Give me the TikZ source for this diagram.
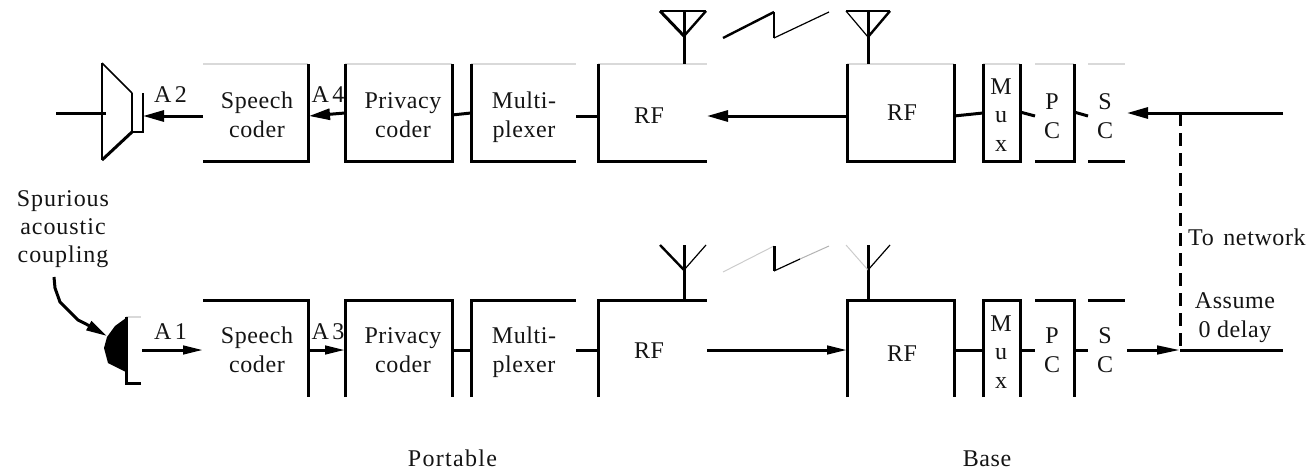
\documentclass[tikz,border=0pt]{standalone}
\usepackage{fontspec}
\setmainfont{Liberation Serif}[LetterSpace=2.5]
\usetikzlibrary{arrows.meta}
\tikzset{x=1pt,y=-1pt,
 ln/.style={line width=3pt,black},
 ln2/.style={line width=2.4pt,black},
 hair/.style={line width=1.2pt,black},
 faint/.style={line width=1.4pt,black!15},
 blk/.style={rectangle,inner sep=0pt,outer sep=0pt,minimum height=97pt},
 lab/.style={font=\fontsize{24}{28.5}\selectfont,align=center,inner sep=0pt,anchor=base,text=black!92},
 tipped/.style={-{Triangle[length=21pt,width=11pt]}},
 tippedlow/.style={-{Triangle[length=20pt,width=8.5pt]}}}
\begin{document}
\begin{tikzpicture}[line cap=butt,line join=miter]
\useasboundingbox (0,0) rectangle (1306,474);
% block placeholders (name, x centre, width)
\foreach \n/\x/\w in {a/255.5/105,b/398.5/107,c/523.5/105,d/652.5/109,e/900.5/107,f/1001.5/37,g/1054.5/39,h/1106.5/37}{
  \node[blk,minimum width=\w pt] (\n1) at (\x,112.5) {};
  \node[blk,minimum width=\w pt] (\n2) at (\x,348.5) {};
}
% top row: faint tops
\foreach \n in {a,b,c,d,e,f,g,h}{\draw[faint] (\n1.north west) -- (\n1.north east);}
\draw[ln] (a1.north east) -- (a1.south east) -- (a1.south west);
\draw[ln] (b1.north west) -- (b1.south west) -- (b1.south east) -- (b1.north east);
\draw[ln] (c1.north west) -- (c1.south west) -- (c1.south east);
\draw[ln] (d1.north west) -- (d1.south west) -- (d1.south east);
\draw[ln] (e1.north west) -- (e1.south west) -- (e1.south east) -- (e1.north east);
\draw[ln] (f1.north west) -- (f1.south west) -- (f1.south east) -- (f1.north east);
\draw[ln] (g1.south west) -- (g1.south east) -- (g1.north east);
\draw[ln] (h1.south west) -- (h1.south east);
% bottom row
\draw[ln] (a2.north west) -- (a2.north east) -- (a2.south east);
\draw[ln] (b2.south west) -- (b2.north west) -- (b2.north east) -- (b2.south east);
\draw[ln] (c2.south west) -- (c2.north west) -- (c2.north east);
\draw[ln] (d2.south west) -- (d2.north west) -- (d2.north east);
\draw[ln] (e2.south west) -- (e2.north west) -- (e2.north east) -- (e2.south east);
\draw[ln] (f2.south west) -- (f2.north west) -- (f2.north east) -- (f2.south east);
\draw[ln] (g2.north west) -- (g2.north east) -- (g2.south east);
\draw[ln] (h2.north west) -- (h2.north east);
% labels (y is the baseline of the last line)
\node[lab] (ta1) at (257,137) {Speech\\coder};
\node[lab] (tb1) at (403,137) {Privacy\\coder};
\node[lab] (tc1) at (524,137) {Multi-\\plexer};
\node[lab] (td1) at (649,123) {RF};
\node[lab] (te1) at (902,120) {RF};
\node[lab] (tf1) at (1001,151) {M\\u\\x};
\node[lab] (tg1) at (1052,138) {P\\C};
\node[lab] (th1) at (1105,138) {S\\C};
\node[lab] (ta2) at (257,372) {Speech\\coder};
\node[lab] (tb2) at (403,372) {Privacy\\coder};
\node[lab] (tc2) at (524,372) {Multi-\\plexer};
\node[lab] (td2) at (649,358) {RF};
\node[lab] (te2) at (902,361) {RF};
\node[lab] (tf2) at (1001,388) {M\\u\\x};
\node[lab] (tg2) at (1052,372) {P\\C};
\node[lab] (th2) at (1105,372) {S\\C};
\node[lab] (a2t) at (170.5,102) {A\hspace{3.5pt}2};
\node[lab] (a4t) at (328,102) {A\hspace{3.5pt}4};
\node[lab] (a1t) at (170.5,339) {A\hspace{3.5pt}1};
\node[lab] (a3t) at (328,339) {A\hspace{3.5pt}3};
\node[lab,font=\fontsize{24}{28}\selectfont\addfontfeature{LetterSpace=4}] (spur) at (63,262) {Spurious\\acoustic\\coupling};
\node[lab,anchor=base west] (net) at (1188,245) {To\hspace{3pt} network};
\node[lab] (ass) at (1235,337) {Assume\\0 delay};
\node[lab,font=\fontsize{24}{28}\selectfont\addfontfeature{LetterSpace=5.4}] (port) at (452.5,466) {Portable};
\node[lab] (base) at (987,466) {Base};
% top row connectors
\coordinate (spk) at (143,116);
\draw[ln,tipped] ([yshift=-3.5pt]a1.west) -- (spk);
\draw[ln,tipped] ([yshift=-0.5pt]b1.west) -- ([xshift=1pt,yshift=-3.5pt]a1.east);
\draw[ln] ([yshift=-2.5pt]b1.east) -- ([yshift=-0.5pt]c1.west);
\draw[ln] ([yshift=-3.5pt]c1.east) -- ([yshift=-3.5pt]d1.west);
\draw[ln,tipped] ([yshift=-3.5pt]e1.west) -- ([yshift=-3.5pt]d1.east);
\draw[ln] ([yshift=-3.5pt]e1.east) -- ([yshift=-0.5pt]f1.west);
\draw[ln] ([yshift=0.5pt]f1.east) -- ([yshift=-3.5pt]g1.west);
\draw[ln] ([yshift=0.5pt]g1.east) -- ([yshift=-3.5pt]h1.west);
\coordinate (ntop) at (1283,113);
\coordinate (nbot) at (1283,350);
\coordinate (jtop) at (1180,113);
\coordinate (jbot) at (1180,350);
\draw[ln,tipped] (ntop) -- ([xshift=2pt,yshift=-0.5pt]h1.east);
\draw[ln,dash pattern=on 12.5pt off 7.5pt] (jtop) -- (jbot);
% bottom row connectors
\coordinate (mic) at (142,350);
\draw[ln,tippedlow] (mic) -- ([yshift=-1.5pt]a2.west);
\draw[ln,tippedlow] ([yshift=-1.5pt]a2.east) -- ([yshift=-1.5pt]b2.west);
\draw[ln] ([yshift=-1.5pt]b2.east) -- ([yshift=-1.5pt]c2.west);
\draw[ln] ([yshift=-1.5pt]c2.east) -- ([yshift=-1.5pt]d2.west);
\draw[ln,tippedlow] ([yshift=-1.5pt]d2.east) -- ([yshift=-1.5pt]e2.west);
\draw[ln] ([yshift=-1.5pt]e2.east) -- ([yshift=-1.5pt]f2.west);
\draw[ln] ([yshift=-1.5pt]f2.east) -- ([yshift=-1.5pt]g2.west);
\draw[ln] ([yshift=-1.5pt]g2.east) -- ([yshift=-1.5pt]h2.west);
\draw[ln,-{Triangle[length=23pt,width=8.5pt]}] ([xshift=2pt,yshift=-1.5pt]h2.east) -- (jbot);
\draw[ln] (jbot) -- (nbot);
% speaker
\draw[ln2] (102,63) -- (102,160);
\draw[line width=1.6pt] (102,63) -- (132,93);
\draw[ln] (102,160) -- (132,132);
\draw[ln2] (132,93) -- (132,132) -- (143,132) -- (143,93);
\draw[ln] (56,113) -- (106,113);
% microphone
\draw[faint] (126,317) -- (141,317);
\draw[ln] (141,383) -- (126,383) -- (126,317);
\fill[black] (126,318) -- (115,326) -- (107,337) -- (104,348) -- (108,363) -- (126,372) -- cycle;
\coordinate (sq0) at (54,277);
\coordinate (sq1) at (107,336);
\draw[ln,line join=round,-{Triangle[length=21pt,width=10pt]}] (sq0) -- (55,288) -- (60,302) -- (67,309) -- (78,320) -- (86,324) -- (sq1);
% antennas
\foreach \xx/\l/\r/\yj/\sl/\sr in {684/660/706/36/ln/ln2, 868/846/890/37/hair/ln2}{
  \draw[\sl] (\l,11) -- (\xx,\yj);
  \draw[\sr] (\r,11) -- (\xx,\yj);
  \draw[ln] (\xx,11) -- (\xx,64);
  \draw[ln2] (\l,11) -- (\r,11);
}
\draw[ln] (684,245) -- (684,300);
\draw[ln2] (660,245) -- (684,270);
\draw[hair] (706,245) -- (684,270);
\draw[ln] (868,245) -- (868,300);
\draw[line width=1pt,black!20] (846,245) -- (868,270);
\draw[hair] (890,245) -- (868,270);
% lightning
\draw[ln2] (723,38) -- (774,12);
\draw[ln2] (774,12) -- (774,38);
\draw[hair] (774,38) -- (829,12);
\draw[line width=1pt,black!20] (723,272) -- (774,246);
\draw[ln] (774,246) -- (774,271);
\draw[hair] (774,271) -- (800,259);
\draw[line width=1pt,black!30] (800,259) -- (829,246);
\end{tikzpicture}
\end{document}
